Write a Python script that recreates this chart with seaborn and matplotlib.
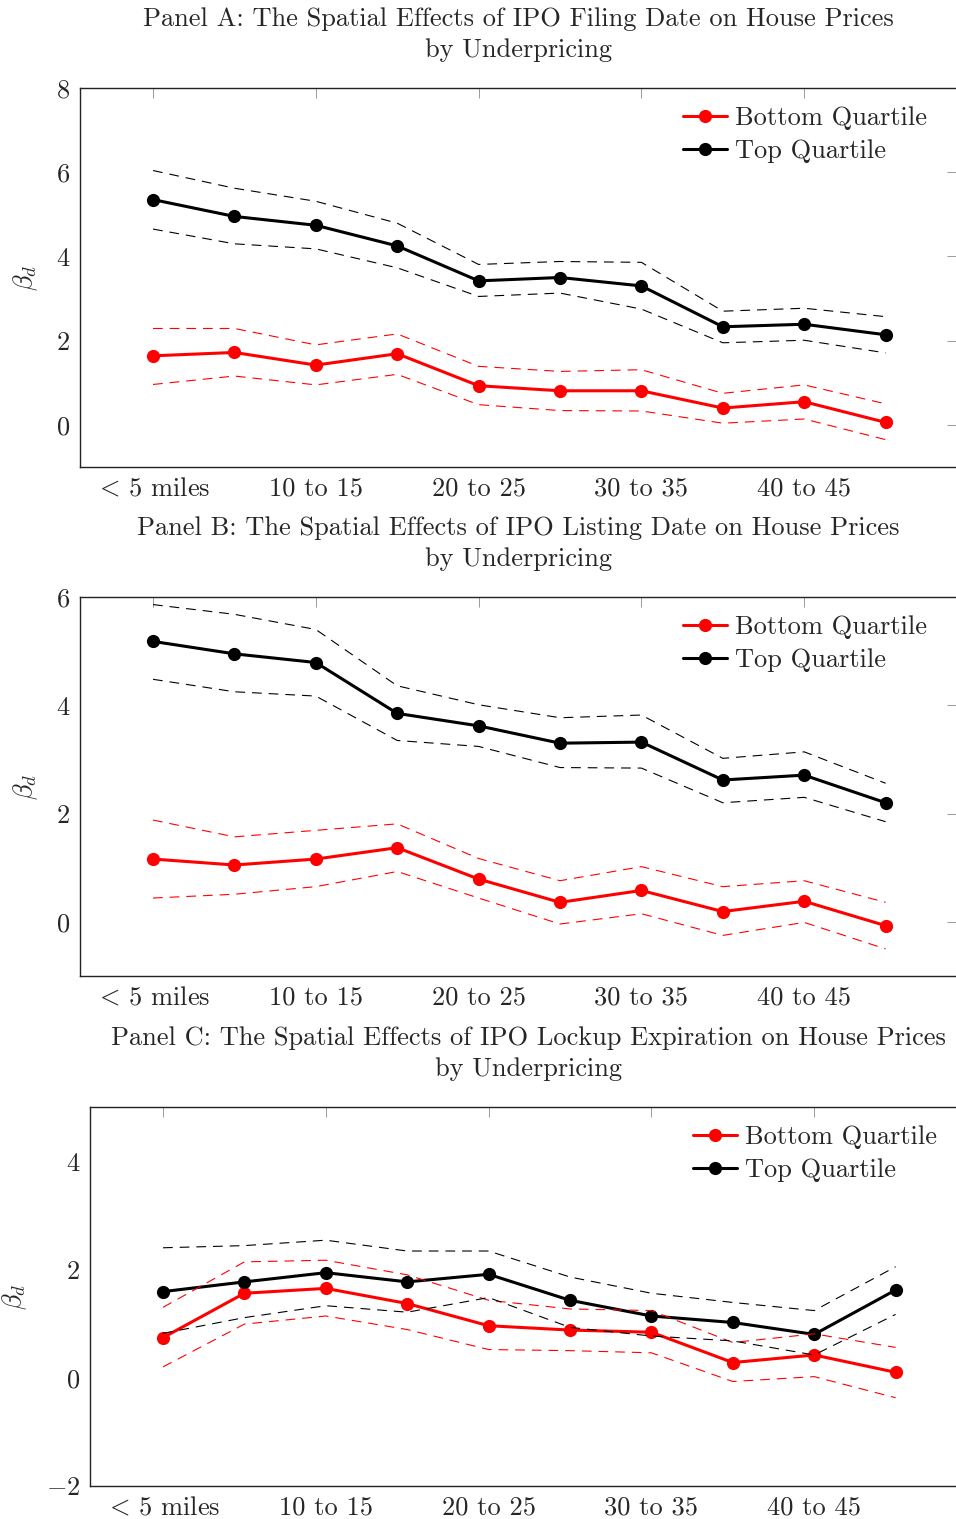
import numpy as np
import pandas as pd
import matplotlib
matplotlib.use("Agg")
import matplotlib.pyplot as plt
import seaborn as sns

# ---- data -------------------------------------------------------------
distance_bins = ["< 5 miles", "5 to 10", "10 to 15", "15 to 20", "20 to 25",
                 "25 to 30", "30 to 35", "35 to 40", "40 to 45", "45 to 50"]
tick_positions = [0, 2, 4, 6, 8]
tick_labels = [r"$<\,$5 miles", "10 to 15", "20 to 25", "30 to 35", "40 to 45"]

# Panel A: IPO filing date
a_top = [5.35, 4.95, 4.74, 4.25, 3.42, 3.50, 3.30, 2.33, 2.39, 2.14]
a_top_hi = [6.04, 5.62, 5.31, 4.79, 3.81, 3.88, 3.86, 2.70, 2.77, 2.57]
a_top_lo = [4.65, 4.30, 4.18, 3.73, 3.05, 3.13, 2.75, 1.95, 2.01, 1.71]
a_bot = [1.64, 1.72, 1.42, 1.69, 0.93, 0.81, 0.81, 0.40, 0.55, 0.06]
a_bot_hi = [2.29, 2.29, 1.90, 2.16, 1.39, 1.27, 1.31, 0.75, 0.95, 0.50]
a_bot_lo = [0.96, 1.16, 0.95, 1.20, 0.48, 0.34, 0.33, 0.04, 0.14, -0.35]

# Panel B: IPO listing date
b_top = [5.18, 4.95, 4.79, 3.85, 3.62, 3.30, 3.32, 2.62, 2.71, 2.20]
b_top_hi = [5.86, 5.68, 5.40, 4.36, 4.01, 3.77, 3.82, 3.02, 3.14, 2.56]
b_top_lo = [4.48, 4.25, 4.17, 3.35, 3.24, 2.85, 2.84, 2.20, 2.30, 1.85]
b_bot = [1.16, 1.05, 1.16, 1.37, 0.79, 0.36, 0.58, 0.19, 0.38, -0.07]
b_bot_hi = [1.88, 1.57, 1.69, 1.81, 1.17, 0.76, 1.02, 0.65, 0.76, 0.36]
b_bot_lo = [0.44, 0.51, 0.65, 0.93, 0.44, -0.04, 0.15, -0.25, -0.01, -0.50]

# Panel C: IPO lockup expiration
c_top = [1.59, 1.77, 1.94, 1.77, 1.91, 1.43, 1.14, 1.02, 0.80, 1.62]
c_top_hi = [2.40, 2.44, 2.54, 2.34, 2.34, 1.86, 1.56, 1.39, 1.24, 2.05]
c_top_lo = [0.82, 1.11, 1.33, 1.21, 1.48, 0.93, 0.77, 0.68, 0.42, 1.17]
c_bot = [0.74, 1.56, 1.65, 1.37, 0.96, 0.88, 0.84, 0.28, 0.42, 0.10]
c_bot_hi = [1.30, 2.14, 2.17, 1.90, 1.43, 1.27, 1.24, 0.65, 0.81, 0.56]
c_bot_lo = [0.20, 0.99, 1.14, 0.89, 0.52, 0.50, 0.46, -0.07, 0.02, -0.37]

panels = [
    dict(title="Panel A: The Spatial Effects of IPO Filing Date on House Prices\nby Underpricing",
         top=a_top, top_hi=a_top_hi, top_lo=a_top_lo,
         bot=a_bot, bot_hi=a_bot_hi, bot_lo=a_bot_lo,
         ylim=(-1, 8), yticks=[0, 2, 4, 6, 8]),
    dict(title="Panel B: The Spatial Effects of IPO Listing Date on House Prices\nby Underpricing",
         top=b_top, top_hi=b_top_hi, top_lo=b_top_lo,
         bot=b_bot, bot_hi=b_bot_hi, bot_lo=b_bot_lo,
         ylim=(-1, 6), yticks=[0, 2, 4, 6]),
    dict(title="Panel C: The Spatial Effects of IPO Lockup Expiration on House Prices\nby Underpricing",
         top=c_top, top_hi=c_top_hi, top_lo=c_top_lo,
         bot=c_bot, bot_hi=c_bot_hi, bot_lo=c_bot_lo,
         ylim=(-2, 5), yticks=[-2, 0, 2, 4]),
]

# ---- style ------------------------------------------------------------
FS = 19
sns.set_style("white")
plt.rcParams.update({
    "font.family": "serif",
    "font.serif": ["cmr10"],
    "mathtext.fontset": "cm",
    "axes.formatter.use_mathtext": True,
    "axes.unicode_minus": True,
    "lines.scale_dashes": False,
    "font.size": FS,
})

W, H = 956, 1519
fig = plt.figure(figsize=(W / 100, H / 100), dpi=100)

# axes boxes in pixels: (left, top, bottom)
boxes = [(80, 88, 467), (80, 597, 976), (90, 1107, 1486)]
ax_w = 877
# right edge of the rotated y label, in pixels
ylabel_x = [40, 40, 29]

RED = "#ff0000"
BLACK = "#000000"

for p, (left, top, bottom), ylx in zip(panels, boxes, ylabel_x):
    ax = fig.add_axes([left / W, 1 - bottom / H, ax_w / W, (bottom - top) / H])
    x = np.arange(len(distance_bins))

    main_kw = dict(marker="o", markersize=9.5, markeredgewidth=0,
                   linewidth=2.2, ax=ax)
    sns.lineplot(x=x, y=p["bot"], color=RED, label="Bottom Quartile",
                 zorder=3, **main_kw)
    sns.lineplot(x=x, y=p["top"], color=BLACK, label="Top Quartile",
                 zorder=3, **main_kw)

    dash_kw = dict(linewidth=0.8, ax=ax, zorder=4)
    for key, col in [("bot_hi", RED), ("bot_lo", RED),
                     ("top_hi", BLACK), ("top_lo", BLACK)]:
        ln = sns.lineplot(x=x, y=p[key], color=col, **dash_kw)
        ln.lines[-1].set_dashes((7, 5))

    ax.set_xlim(-0.897, 9.877)
    ax.set_ylim(*p["ylim"])
    ax.set_xticks(tick_positions)
    ax.set_xticklabels(tick_labels)
    ax.set_yticks(p["yticks"])

    ax.tick_params(direction="in", length=7, width=0.7, color="#9a9a9a",
                   top=True, right=True, labelsize=FS, pad=7)
    for s in ax.spines.values():
        s.set_color("#222222")
        s.set_linewidth(1.0)

    ax.set_ylabel(r"$\beta_d$", fontsize=FS)
    ax.yaxis.set_label_coords((ylx - left) / ax_w, 0.5)

    ax.set_title(p["title"], fontsize=FS, pad=22, linespacing=1.4)

    leg = ax.legend(loc="upper left", bbox_to_anchor=(0.688, 0.952),
                    frameon=False, fontsize=FS, handlelength=1.67,
                    handletextpad=0.3, labelspacing=0.35, borderpad=0,
                    borderaxespad=0)

fig.savefig("out.png", dpi=100)
